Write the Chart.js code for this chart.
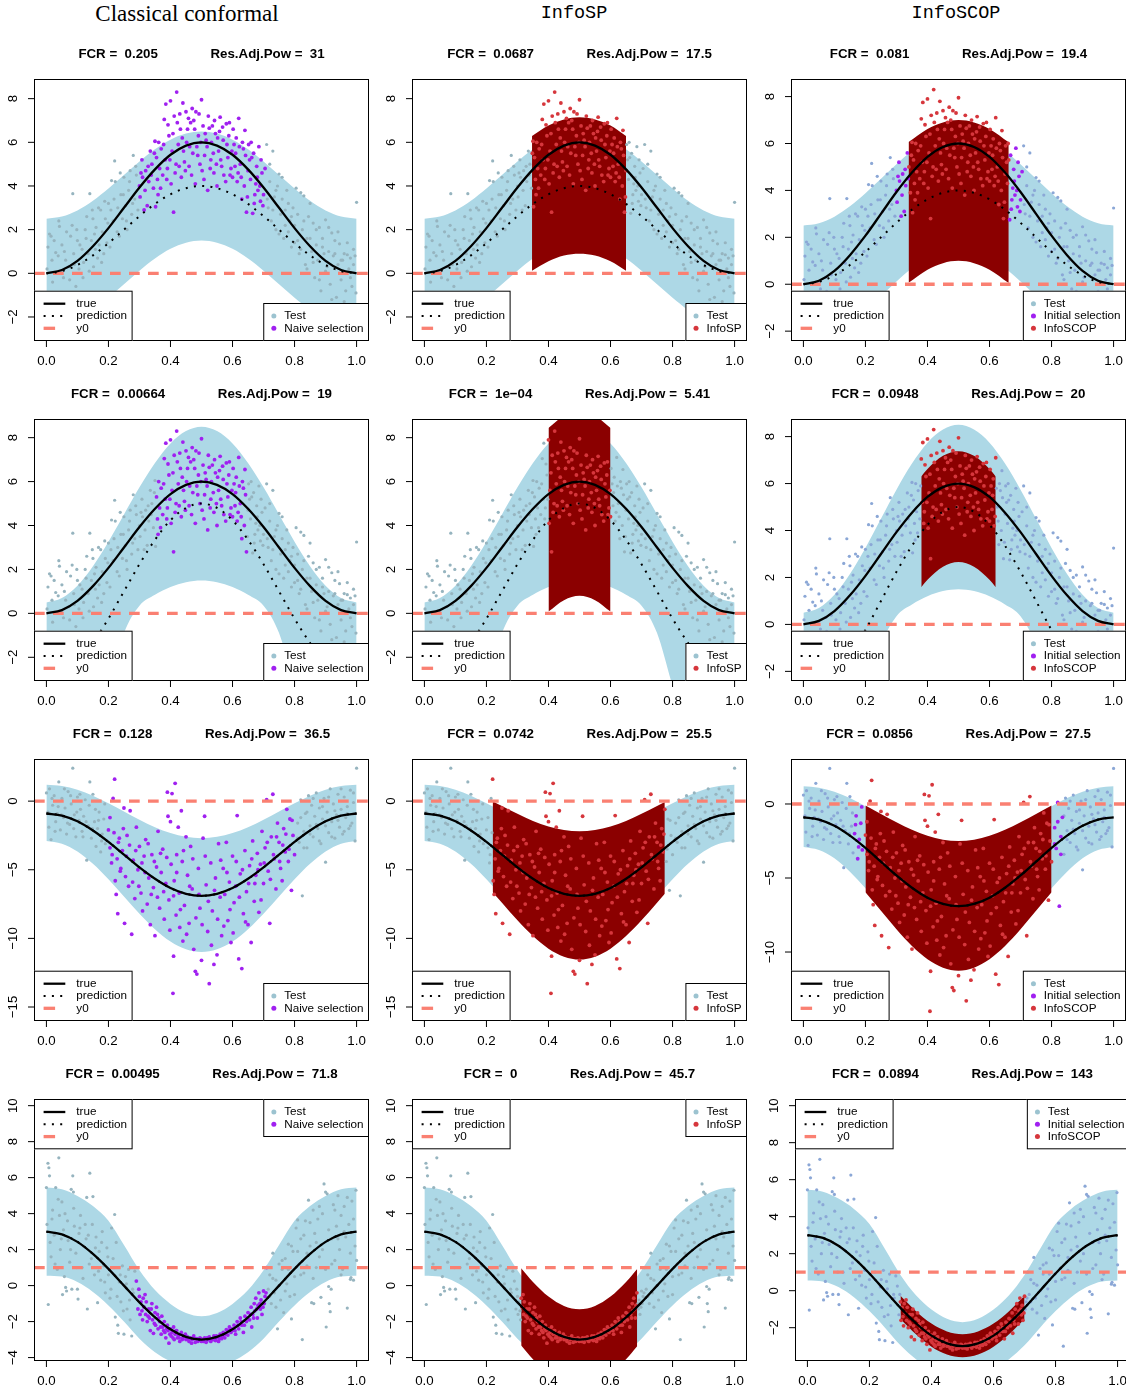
<!DOCTYPE html>
<html>
<head>
<meta charset="utf-8">
<script src="https://cdn.jsdelivr.net/npm/chart.js@4.4.0/dist/chart.umd.min.js"></script>
<style>
body{margin:0;background:#fff;width:1126px;height:1389px;overflow:hidden;position:relative}
canvas{position:absolute}
.head{position:absolute;top:0;width:300px;height:28px;line-height:28px;text-align:center;color:#000}
</style>
</head>
<body>
<div class="head" style="left:37px;font:23px 'Liberation Serif',serif;line-height:28px">Classical conformal</div>
<div class="head" style="left:424px;font:18.5px 'Liberation Mono',monospace;line-height:28px">InfoSP</div>
<div class="head" style="left:806px;font:18.5px 'Liberation Mono',monospace;line-height:28px">InfoSCOP</div>
<script>
// ---- data ----
const xGrid = [0,0.05,0.1,0.15,0.2,0.25,0.3,0.35,0.4,0.45,0.5,0.55,0.6,0.65,0.7,0.75,0.8,0.85,0.9,0.95,1];
const xTicks = [0,0.2,0.4,0.6,0.8,1];
const yTicksTop = [-2,0,2,4,6,8];
const yTicksR3 = [-15,-10,-5,0];
const yTicksR3c = [-10,-5,0];
const yTicksR4 = [-4,-2,0,2,4,6,8,10];
const yTicksR4c = [-2,0,2,4,6,8,10];

// rows 1-2 share the same response values
const trueA  = [0,0.15,0.57,1.24,2.07,3,3.93,4.76,5.43,5.85,6,5.85,5.43,4.76,3.93,3,2.07,1.24,0.57,0.15,0];
const predR1 = [0,0.1,0.38,0.82,1.38,2,2.62,3.18,3.62,3.9,4,3.9,3.62,3.18,2.62,2,1.38,0.82,0.38,0.1,0];
const upR1   = [2.5,2.6,2.88,3.32,3.88,4.5,5.12,5.68,6.12,6.4,6.5,6.4,6.12,5.68,5.12,4.5,3.88,3.32,2.88,2.6,2.5];
const loR1   = [-2.5,-2.4,-2.12,-1.68,-1.12,-0.5,0.12,0.68,1.12,1.4,1.5,1.4,1.12,0.68,0.12,-0.5,-1.12,-1.68,-2.12,-2.4,-2.5];
const predR2 = [-3,-2.8,-2.24,-1.35,-0.24,1,2.24,3.35,4.24,4.8,5,4.8,4.24,3.35,2.24,1,-0.24,-1.35,-2.24,-2.8,-3];
const upR2   = [0.5,0.7,1.26,2.15,3.26,4.5,5.74,6.85,7.74,8.3,8.5,8.3,7.74,6.85,5.74,4.5,3.26,2.15,1.26,0.7,0.5];
const loR2   = [-8,-7.8,-7,-5.5,-3.3,-0.9,0.35,0.85,1.2,1.42,1.5,1.42,1.2,0.85,0.35,-0.9,-3.3,-5.5,-7,-7.8,-8];
const trueR3 = [-0.9,-1.05,-1.47,-2.14,-2.97,-3.9,-4.83,-5.66,-6.33,-6.75,-6.9,-6.75,-6.33,-5.66,-4.83,-3.9,-2.97,-2.14,-1.47,-1.05,-0.9];
const predR3 = [-0.9,-1.05,-1.47,-2.14,-2.97,-3.9,-4.83,-5.66,-6.33,-6.75,-6.9,-6.75,-6.33,-5.66,-4.83,-3.9,-2.97,-2.14,-1.47,-1.05,-0.9];
const upR3   = [1.2,1.1,0.83,0.4,-0.15,-0.75,-1.35,-1.9,-2.33,-2.6,-2.7,-2.6,-2.33,-1.9,-1.35,-0.75,-0.15,0.4,0.83,1.1,1.2];
const loR3   = [-2.9,-3.1,-3.67,-4.57,-5.7,-6.95,-8.2,-9.33,-10.23,-10.8,-11,-10.8,-10.23,-9.33,-8.2,-6.95,-5.7,-4.57,-3.67,-3.1,-2.9];
const trueR4 = [3,2.85,2.43,1.76,0.93,0,-0.93,-1.76,-2.43,-2.85,-3,-2.85,-2.43,-1.76,-0.93,0,0.93,1.76,2.43,2.85,3];
const predR4 = [3,2.85,2.43,1.76,0.93,0,-0.93,-1.76,-2.43,-2.85,-3,-2.85,-2.43,-1.76,-0.93,0,0.93,1.76,2.43,2.85,3];
const upR4   = [5.45,5.35,4.98,4.42,3.6,2.25,0.85,-0.25,-1.02,-1.52,-1.7,-1.52,-1.02,-0.25,0.85,2.25,3.6,4.42,4.98,5.35,5.45];
const loR4   = [0.55,0.5,0.2,-0.35,-1.1,-2,-2.95,-3.7,-4.2,-4.45,-4.5,-4.45,-4.2,-3.7,-2.95,-2,-1.1,-0.35,0.2,0.5,0.55];
const y0Vals = [0,0,0,1];

// selected-interval bands (InfoSP / InfoSCOP)
const spX1 = [0.347,0.4,0.45,0.5,0.55,0.6,0.65];
const spUp1 = [6.29,6.77,7.05,7.15,7.05,6.77,6.29];
const spLo1 = [0.12,0.55,0.82,0.9,0.82,0.55,0.12];
const scX1 = [0.339,0.4,0.45,0.5,0.55,0.6,0.662];
const scUp1 = [6.06,6.62,6.9,7,6.9,6.62,6.05];
const scLo1 = [0.06,0.62,0.9,1,0.9,0.62,0.05];
const spX2 = [0.4,0.45,0.5,0.55,0.6];
const spUp2 = [8.44,9,9.2,9,8.44];
const spLo2 = [0.08,0.6,0.8,0.6,0.08];
const scX2 = [0.38,0.4,0.45,0.5,0.55,0.6,0.62];
const scUp2 = [6.3,6.62,7.18,7.38,7.18,6.62,6.3];
const scLo2 = [1.58,1.9,2.46,2.66,2.46,1.9,1.58];
const spX3 = [0.22,0.25,0.3,0.35,0.4,0.45,0.5,0.55,0.6,0.65,0.7,0.75,0.775];
const spUp3 = [0,-0.35,-0.92,-1.44,-1.85,-2.11,-2.2,-2.11,-1.85,-1.44,-0.92,-0.35,-0.06];
const spLo3 = [-6.63,-7.4,-8.68,-9.83,-10.75,-11.33,-11.54,-11.33,-10.75,-9.83,-8.68,-7.4,-6.75];
const scX3 = [0.2,0.25,0.3,0.35,0.4,0.45,0.5,0.55,0.6,0.65,0.7,0.75,0.8];
const scUp3 = [-0.1,-0.67,-1.23,-1.74,-2.15,-2.41,-2.5,-2.41,-2.15,-1.74,-1.23,-0.67,-0.1];
const scLo3 = [-5.97,-7.22,-8.47,-9.6,-10.49,-11.06,-11.26,-11.06,-10.49,-9.6,-8.47,-7.22,-5.97];
const spX4 = [0.312,0.35,0.4,0.45,0.5,0.55,0.6,0.65,0.686];
const spUp4 = [0.96,0.2,-0.61,-1.13,-1.31,-1.13,-0.61,0.2,0.92];
const spLo4 = [-3.33,-4.09,-4.9,-5.42,-5.6,-5.42,-4.9,-4.09,-3.37];
const scX4 = [0.3,0.35,0.4,0.45,0.5,0.55,0.6,0.65,0.7];
const scUp4 = [-0.28,-1.11,-1.78,-2.2,-2.35,-2.2,-1.78,-1.11,-0.28];
const scLo4 = [-1.53,-2.36,-3.03,-3.45,-3.6,-3.45,-3.03,-2.36,-1.53];

// test points: rows 1-2
const ptsA = [[0.002,0.2],[0.005,1.2],[0.01,1.8],[0.015,1.7],[0.02,-0.4],[0.025,1.5],[0.03,0.95],[0.035,-0.9],[0.04,2.4],[0.042,2.15],[0.048,0.1],[0.05,1.3],[0.055,-0.2],[0.058,1.0],[0.062,0.6],[0.068,-1.1],[0.072,0.3],[0.078,1.7],[0.083,2.2],[0.085,3.65],[0.09,0.4],[0.095,-0.6],[0.1,1.5],
[0.105,0.2],[0.11,-0.9],[0.115,1.1],[0.12,0.5],[0.125,2.0],[0.13,2.6],[0.135,0.9],[0.14,3.65],[0.145,1.5],[0.15,2.5],[0.152,0.3],[0.155,1.8],[0.16,2.1],[0.165,0.7],[0.17,1.3],[0.175,2.9],[0.18,1.9],[0.185,0.9],[0.19,2.5],[0.195,1.4],[0.2,3.2],
[0.205,1.2],[0.21,4.25],[0.215,2.4],[0.22,5.15],[0.222,4.2],[0.23,3.0],[0.235,1.7],[0.24,3.6],[0.245,2.5],[0.25,4.4],[0.255,3.1],[0.26,2.0],[0.265,3.8],[0.27,4.7],[0.275,2.7],[0.28,5.4],[0.285,3.4],[0.29,4.5],[0.295,2.9],
[0.3,4.0],[0.305,4.6],[0.31,4.4],[0.315,2.9],[0.32,4.7],[0.325,3.1],[0.33,4.2],[0.335,5.6],[0.34,5.0],[0.345,3.9],[0.35,6.05],[0.352,3.05],[0.355,5.3],[0.36,3.6],[0.365,4.8],[0.37,5.7],[0.375,4.5],[0.38,7.05],[0.383,5.2],[0.385,7.75],[0.39,4.8],[0.395,6.3],[0.4,7.9],[0.402,4.1],[0.405,5.6],[0.41,2.8],[0.412,7.2],[0.415,4.6],[0.42,8.3],[0.425,5.9],[0.43,7.3],[0.432,6.6],[0.435,4.4],[0.44,7.8],[0.445,5.1],[0.45,7.4],[0.452,6.0],[0.455,6.6],[0.46,4.9],[0.465,6.9],[0.47,7.55],[0.472,5.5],[0.475,7.0],[0.48,4.1],[0.482,7.4],[0.485,5.8],[0.49,6.3],[0.495,5.0],[0.5,7.95],[0.502,4.7],[0.505,6.75],[0.51,5.4],[0.515,6.1],[0.52,3.8],[0.522,7.2],[0.525,6.65],[0.53,5.2],[0.535,6.75],[0.54,4.6],[0.545,6.4],[0.55,4.0],[0.552,6.2],[0.555,5.6],[0.56,7.15],[0.565,4.9],[0.57,6.1],[0.572,4.5],[0.58,6.85],[0.585,5.3],[0.59,6.9],[0.595,4.8],[0.6,4.4],[0.605,5.9],[0.61,5.5],[0.615,4.2],[0.62,7.1],[0.625,5.0],[0.63,3.4],[0.635,5.7],[0.64,6.55],[0.645,2.8],[0.65,4.7],[0.655,5.2],[0.66,6.0],[0.662,5.3],[0.665,2.75],[0.67,3.2],[0.675,4.1],[0.68,4.4],[0.682,3.8],[0.685,5.8],[0.69,3.3],[0.695,4.6],[0.7,3.6],
[0.302,3.5],[0.308,5.2],[0.318,3.8],[0.328,4.9],[0.338,4.5],[0.348,5.5],[0.358,4.3],[0.362,6.0],[0.368,3.9],[0.378,5.9],[0.388,4.3],[0.392,6.8],[0.398,5.2],[0.408,6.4],[0.418,5.0],[0.422,6.9],[0.428,4.9],[0.438,6.2],[0.442,5.6],[0.448,4.7],[0.458,7.1],[0.462,5.8],[0.468,4.5],[0.478,6.6],[0.488,5.4],[0.492,7.3],[0.498,6.0],[0.508,4.3],[0.512,6.4],[0.518,5.8],[0.528,4.8],[0.532,6.0],[0.538,5.5],[0.542,7.0],[0.548,5.0],[0.558,6.5],[0.562,5.2],[0.568,6.7],[0.578,4.2],[0.582,5.9],[0.588,6.3],[0.592,4.5],[0.598,5.6],[0.602,6.6],[0.608,4.9],[0.612,6.2],[0.618,4.6],[0.622,5.8],[0.628,4.4],[0.632,6.0],[0.638,4.0],[0.642,5.4],[0.648,3.5],[0.652,5.9],[0.658,4.3],[0.668,5.5],[0.672,3.6],[0.678,4.9],[0.688,4.0],[0.692,5.2],[0.698,3.1],
[0.705,4.8],[0.71,5.9],[0.715,3.0],[0.72,4.2],[0.725,2.4],[0.73,5.6],[0.735,3.5],[0.74,2.0],[0.745,4.0],[0.75,4.55],[0.755,2.7],[0.76,3.4],[0.765,1.6],[0.77,2.9],[0.775,3.8],[0.78,1.9],[0.785,2.4],[0.79,1.2],[0.795,3.0],[0.8,2.2],
[0.805,3.9],[0.81,1.5],[0.815,0.9],[0.82,3.7],[0.825,2.0],[0.83,3.55],[0.835,0.4],[0.84,1.6],[0.845,2.6],[0.85,3.2],[0.855,1.0],[0.86,2.3],[0.865,-0.2],[0.87,1.3],[0.875,0.6],[0.88,2.1],[0.885,-0.8],[0.89,1.6],[0.895,0.9],[0.9,2.45],
[0.905,0.3],[0.91,2.1],[0.915,-0.5],[0.92,1.85],[0.925,0.8],[0.93,1.5],[0.935,-1.1],[0.94,0.4],[0.945,1.35],[0.95,-0.3],[0.955,0.6],[0.96,0.9],[0.965,-0.8],[0.97,0.85],[0.975,0.2],[0.98,0.7],[0.985,-0.6],[0.99,1.1],[0.995,0.8],[1.0,3.25],[0.998,-0.9],
[0.003,-1.4],[0.018,0.6],[0.028,-1.2],[0.038,0.8],[0.052,-1.5],[0.065,1.9],[0.075,-0.3],[0.088,0.9],[0.098,2.0],[0.108,1.3],[0.118,-0.2],[0.128,1.6],[0.138,0.1],[0.148,2.9],[0.158,1.1],[0.168,3.0],[0.178,0.5],[0.188,3.3],[0.198,2.3],[0.208,2.9],[0.218,3.4],[0.228,1.9],[0.238,4.6],[0.248,3.6],[0.258,2.4],[0.268,4.2],[0.278,3.2],[0.288,4.9],
[0.712,3.4],[0.72,5.0],[0.73,2.9],[0.74,3.8],[0.75,1.8],[0.76,4.4],[0.77,2.2],[0.78,3.2],[0.79,2.6],[0.8,1.4],[0.81,2.7],[0.82,1.1],[0.83,2.4],[0.84,0.2],[0.85,1.6],[0.86,0.5],[0.87,2.0],[0.88,-0.3],[0.89,1.2],[0.9,0.1],[0.91,1.0],[0.92,-1.2],[0.93,0.9],[0.94,1.9],[0.95,0.6],[0.96,-1.3],[0.97,1.4],[0.98,-0.2],[0.99,0.4]];

// row 3
const ptsB = [[0.0,0.6],[0.005,-0.8],[0.01,0.9],[0.015,-2.8],[0.02,-0.3],[0.025,0.4],[0.03,-1.5],[0.035,-0.9],[0.04,1.4],[0.045,-2.1],[0.05,0.2],[0.055,-1.2],[0.06,-0.5],[0.065,-2.4],[0.07,0.7],[0.075,-1.7],[0.08,-0.2],[0.085,2.4],[0.09,-1.0],[0.095,-2.6],[0.1,0.3],[0.105,-1.4],[0.11,-0.6],[0.115,-2.2],[0.12,-1.1],[0.125,0.1],[0.13,-4.3],[0.135,-1.8],[0.14,1.4],[0.145,-2.7],[0.15,0.5],[0.155,-1.5],[0.16,-3.3],[0.165,-2.0],[0.17,-0.8],[0.175,-3.7],[0.18,-2.4],[0.185,-1.3],[0.19,-3.1],
[0.2,-2.1],[0.205,-3.4],[0.21,-4.5],[0.215,0.2],[0.22,1.6],[0.222,-5.8],[0.225,-6.8],[0.23,-8.2],[0.232,-3.0],[0.235,-2.7],[0.24,-4.9],[0.245,-3.6],[0.25,-0.5],[0.252,-8.9],[0.255,-5.5],[0.26,-2.5],[0.265,-6.2],[0.27,-0.7],[0.275,-9.7],[0.28,-4.3],[0.285,-7.1],[0.29,-1.9],[0.295,-5.0],[0.3,-3.3],[0.305,-6.7],[0.31,-8.0],[0.315,-4.0],[0.32,-2.8],[0.325,-7.5],[0.33,-5.6],[0.335,-9.0],[0.34,-3.9],[0.345,-6.3],[0.35,-9.8],[0.355,-4.8],[0.36,-2.2],[0.365,-7.8],[0.37,-5.2],[0.375,-3.5],[0.38,-8.6],[0.385,-6.0],[0.39,0.65],[0.392,-1.1],[0.395,-7.2],[0.4,-1.5],[0.402,-4.6],[0.405,0.55],[0.408,-14.0],[0.41,-11.3],[0.412,-5.8],[0.415,1.3],[0.418,-8.3],[0.42,-3.9],[0.425,-1.9],[0.428,-6.7],[0.43,-9.2],[0.435,-0.7],[0.438,-4.4],[0.44,-10.2],[0.445,-7.6],[0.45,-2.6],[0.455,-5.4],[0.46,-8.9],[0.465,-3.3],[0.47,-6.4],[0.475,-10.8],[0.48,-12.4],[0.485,-12.6],[0.49,-4.9],[0.495,-7.8],[0.5,-11.6],[0.505,-2.7],[0.51,-1.1],[0.515,-6.1],[0.52,-9.5],[0.525,-13.3],[0.53,-4.5],[0.535,-8.0],[0.54,-11.9],[0.545,-5.6],[0.55,-11.2],[0.555,-3.1],[0.56,-7.0],[0.565,-9.8],[0.57,-4.9],[0.575,-6.8],[0.58,-3.0],[0.585,-8.7],[0.59,-5.9],[0.595,-10.3],[0.6,-4.0],[0.605,-7.4],[0.61,-6.2],[0.615,-1.05],[0.62,-11.5],[0.625,-5.3],[0.63,-12.2],[0.635,-8.2],[0.64,-3.6],[0.645,-6.6],[0.65,-9.0],[0.655,-4.7],[0.66,-10.3],[0.665,-2.9],[0.67,-7.3],[0.675,-5.4],[0.68,-3.8],[0.685,-8.1],[0.69,-4.6],[0.695,-2.2],[0.7,-6.0],[0.705,-3.4],[0.71,0.1],[0.715,-5.1],[0.72,-8.9],[0.725,-2.6],[0.73,0.5],[0.735,-4.2],[0.74,-6.4],[0.745,-1.6],[0.75,-3.0],[0.755,-4.9],[0.76,-5.8],[0.765,-2.0],[0.77,-3.7],[0.775,-0.6],[0.78,-4.4],[0.785,-1.3],[0.79,-6.5],[0.795,-2.5],[0.8,-3.9],
[0.205,-1.2],[0.212,-3.9],[0.218,-2.3],[0.228,-4.2],[0.238,-5.1],[0.248,-2.0],[0.258,-4.0],[0.268,-3.2],[0.278,-5.9],[0.288,-3.6],[0.298,-6.2],[0.308,-4.5],[0.318,-5.2],[0.328,-3.1],[0.338,-6.8],[0.348,-4.4],[0.358,-7.0],[0.368,-3.8],[0.378,-6.6],[0.388,-4.1],[0.398,-9.4],[0.41,-6.9],[0.42,-5.2],[0.432,-7.9],[0.442,-3.6],[0.452,-9.7],[0.462,-6.2],[0.472,-4.2],[0.482,-8.5],[0.492,-6.8],[0.502,-9.0],[0.512,-4.0],[0.522,-7.3],[0.532,-10.5],[0.542,-6.5],[0.552,-8.6],[0.562,-4.3],[0.572,-9.1],[0.582,-5.2],[0.592,-7.9],[0.602,-9.6],[0.612,-4.4],[0.622,-7.0],[0.632,-5.0],[0.642,-8.8],[0.652,-6.0],[0.662,-4.2],[0.672,-6.0],[0.682,-5.0],[0.692,-7.2],[0.702,-4.5],[0.712,-3.0],[0.722,-5.7],[0.732,-3.9],[0.742,-2.6],[0.752,-4.4],[0.762,-3.2],[0.772,-2.4],[0.782,-3.5],[0.792,-1.4],
[0.81,-1.6],[0.815,-3.0],[0.82,0.1],[0.825,-6.9],[0.83,-2.2],[0.835,-0.9],[0.84,-3.4],[0.845,0.4],[0.85,-1.8],[0.855,-0.3],[0.86,-2.6],[0.865,-1.1],[0.87,0.6],[0.875,-2.0],[0.88,-0.5],[0.885,-3.1],[0.89,-1.3],[0.895,0.2],[0.9,-4.45],[0.905,-0.8],[0.91,-2.3],[0.915,0.9],[0.92,-1.5],[0.925,-0.2],[0.93,-2.7],[0.935,-1.0],[0.94,0.5],[0.945,-1.9],[0.95,-0.6],[0.955,-2.4],[0.96,0.3],[0.965,-1.2],[0.97,-0.4],[0.975,-2.0],[0.98,0.8],[0.985,-1.6],[0.99,-0.1],[0.995,-2.9],[1.0,2.4],
[0.008,-1.9],[0.018,0.2],[0.028,-2.2],[0.038,-0.4],[0.048,-1.0],[0.058,0.9],[0.068,-1.6],[0.078,0.4],[0.088,-2.0],[0.098,-0.8],[0.108,0.5],[0.118,-2.6],[0.128,-1.5],[0.138,-0.3],[0.148,-2.0],[0.158,-0.6],[0.168,-1.4],[0.178,-2.9],[0.188,-0.2],
[0.81,-2.7],[0.82,-1.2],[0.83,-3.4],[0.84,-0.8],[0.85,-2.4],[0.86,0.2],[0.87,-1.7],[0.88,-2.9],[0.89,-0.4],[0.9,-1.8],[0.91,0.3],[0.92,-2.6],[0.93,-0.7],[0.94,-1.4],[0.95,0.9],[0.96,-2.2],[0.97,-0.9],[0.98,-1.8],[0.99,0.6]];

// row 4
const ptsC = [[0.0,5.45],[0.002,3.4],[0.005,6.8],[0.006,-1.05],[0.008,6.55],[0.01,6.1],[0.012,2.4],[0.015,1.6],[0.02,4.2],[0.025,2.8],[0.03,5.45],[0.035,0.9],[0.04,7.1],[0.042,3.9],[0.045,2.0],[0.05,4.65],[0.052,-0.5],[0.055,3.1],[0.06,4.0],[0.062,-0.1],[0.065,-0.3],[0.07,2.5],[0.075,1.3],[0.08,5.35],[0.082,-0.2],[0.085,6.1],[0.087,5.2],[0.09,3.3],[0.095,1.8],[0.1,-0.2],[0.102,-0.75],[0.105,2.9],[0.11,3.9],[0.115,1.0],[0.12,2.2],[0.125,3.4],[0.13,4.9],[0.132,-1.3],[0.135,2.8],[0.14,6.25],[0.145,1.5],[0.15,4.95],[0.155,0.6],[0.16,2.7],[0.165,-0.95],[0.17,1.9],[0.175,0.3],[0.18,3.0],[0.185,1.1],[0.19,-0.4],[0.195,2.1],[0.2,0.6],[0.205,-0.7],[0.21,3.2],[0.215,1.5],[0.22,3.95],[0.222,-1.75],[0.225,2.4],[0.23,-2.2],[0.232,-2.65],[0.235,0.2],[0.24,-0.9],[0.245,1.1],[0.25,-2.7],[0.255,0.5],[0.26,-1.3],[0.265,0.9],[0.27,-1.9],[0.275,-2.8],[0.28,-0.4],[0.285,0.8],
[0.29,0.25],[0.295,-1.3],[0.3,-0.6],[0.302,-1.6],[0.305,-0.9],[0.31,-1.9],[0.312,-0.7],[0.315,-1.2],[0.32,-1.6],[0.322,-0.9],[0.325,-2.0],[0.33,-1.3],[0.332,-1.8],[0.335,-2.5],[0.34,-1.0],[0.342,-1.9],[0.345,-2.65],[0.35,-1.5],[0.352,-2.2],[0.355,-1.2],[0.36,-2.4],[0.362,-1.8],[0.365,-2.0],[0.37,-2.7],[0.372,-1.7],[0.375,-2.3],[0.38,-2.0],[0.382,-2.6],[0.385,-2.9],[0.39,-2.2],[0.392,-2.5],[0.395,-3.2],[0.4,-2.4],[0.402,-2.8],[0.405,-2.6],[0.41,-2.3],[0.412,-3.0],[0.415,-2.7],[0.42,-2.5],[0.422,-2.9],[0.425,-2.75],[0.43,-3.1],[0.435,-2.6],[0.44,-2.9],[0.445,-2.8],[0.45,-3.0],[0.455,-2.85],[0.46,-3.1],[0.465,-2.9],[0.47,-3.0],[0.475,-2.8],[0.48,-3.15],[0.485,-2.95],[0.49,-3.05],[0.495,-2.9],[0.5,-3.1],[0.505,-3.0],[0.51,-2.9],[0.515,-3.15],[0.52,-3.0],[0.525,-2.85],[0.53,-3.1],[0.535,-2.95],[0.54,-2.8],[0.545,-3.05],[0.55,-2.9],[0.555,-3.1],[0.56,-2.7],[0.565,-2.95],[0.57,-2.6],[0.575,-2.9],[0.58,-2.45],[0.585,-2.75],[0.59,-2.3],[0.595,-2.6],[0.6,-2.5],[0.605,-2.2],[0.61,-2.7],[0.615,-2.0],[0.62,-2.4],[0.625,-1.8],[0.63,-2.2],[0.635,-2.6],[0.64,-1.7],[0.645,-2.0],[0.65,-1.5],[0.655,-1.9],[0.66,-1.2],[0.662,-2.3],[0.665,-1.6],[0.67,-1.0],[0.672,-1.4],[0.675,-0.7],[0.68,-1.8],[0.682,-1.1],[0.685,-0.4],[0.69,-1.3],[0.692,-0.8],[0.695,-1.6],[0.7,-0.3],[0.702,-1.0],[0.705,-0.6],[0.71,1.0],
[0.298,-0.2],[0.308,-1.4],[0.318,-0.5],[0.328,-1.7],[0.338,-1.3],[0.348,-2.1],[0.358,-1.6],[0.368,-2.3],[0.378,-2.5],[0.388,-2.4],[0.398,-2.7],[0.408,-2.9],[0.418,-2.5],[0.428,-2.9],[0.438,-3.0],[0.448,-2.7],[0.458,-3.0],[0.468,-3.2],[0.478,-2.95],[0.488,-3.1],[0.498,-2.95],[0.508,-3.1],[0.518,-2.9],[0.528,-3.05],[0.538,-3.0],[0.548,-2.8],[0.558,-2.95],[0.568,-2.8],[0.578,-2.7],[0.588,-2.5],[0.598,-2.4],[0.608,-2.5],[0.618,-2.2],[0.628,-2.0],[0.638,-2.2],[0.648,-1.8],[0.658,-1.6],[0.668,-1.8],[0.678,-1.3],[0.688,-1.0],[0.698,-1.2],[0.708,-0.4],
[0.715,-0.2],[0.72,0.6],[0.725,-1.0],[0.73,1.8],[0.735,-0.4],[0.74,0.3],[0.745,-2.4],[0.75,1.2],[0.755,-0.8],[0.76,0.9],[0.765,-1.5],[0.77,1.5],[0.775,0.1],[0.78,2.3],[0.785,-0.6],[0.79,-1.85],[0.795,1.9],[0.8,0.5],[0.805,3.2],[0.81,3.65],[0.815,1.2],[0.82,2.6],[0.825,-3.0],[0.83,0.7],[0.835,3.6],[0.84,1.8],[0.845,4.75],[0.85,2.2],[0.855,-0.95],[0.86,4.2],[0.862,-1.0],[0.865,2.9],[0.87,1.0],[0.875,3.7],[0.88,1.6],[0.885,-0.65],[0.89,4.0],[0.895,5.65],[0.9,5.2],[0.902,-2.3],[0.905,5.1],[0.91,-0.05],[0.912,-1.0],[0.915,-1.45],[0.918,-0.2],[0.92,2.6],[0.925,4.5],[0.93,1.4],[0.935,3.3],[0.94,5.0],[0.945,2.0],[0.95,3.9],[0.955,0.9],[0.96,4.4],[0.965,2.7],[0.97,-1.25],[0.975,3.4],[0.98,0.35],[0.982,0.45],[0.985,4.7],[0.99,0.3],[0.995,2.2],[1.0,1.4],[0.998,5.3],
[0.018,3.7],[0.028,1.2],[0.038,4.8],[0.048,2.6],[0.058,0.5],[0.068,3.6],[0.078,2.0],[0.088,4.3],[0.098,1.0],[0.108,3.2],[0.118,0.4],[0.128,2.6],[0.138,1.2],[0.148,3.4],[0.158,2.1],[0.168,0.8],[0.178,2.4],[0.188,0.2],[0.198,1.6],[0.208,-0.2],[0.218,1.0],[0.228,-0.6],[0.238,0.6],[0.248,-1.4],[0.258,0.1],[0.268,-0.8],[0.278,-0.2],
[0.72,-0.6],[0.73,0.4],[0.74,-1.2],[0.75,0.0],[0.76,1.4],[0.77,-0.3],[0.78,0.9],[0.79,2.2],[0.8,-0.5],[0.81,1.9],[0.82,0.6],[0.83,2.8],[0.84,1.1],[0.85,3.5],[0.86,0.4],[0.87,2.4],[0.88,4.4],[0.89,2.0],[0.9,0.9],[0.91,3.1],[0.92,1.2],[0.93,4.2],[0.94,2.6],[0.95,0.6],[0.96,3.0],[0.97,4.9],[0.98,1.8],[0.99,3.7]];

// per panel (row-major, 3 columns)
const fcrText = ['0.205','0.0687','0.081','0.00664','1e\u221204','0.0948','0.128','0.0742','0.0856','0.00495','0','0.0894'];
const powText = ['31','17.5','19.4','19','5.41','20','36.5','25.5','27.5','71.8','45.7','143'];
const yLimits = [[-3.1,8.9],[-3.1,8.9],[-2.42,8.75],[-3.08,8.85],[-3.08,8.85],[-2.41,8.75],[-16.02,3.07],[-16.02,3.07],[-14.66,3.04],[-4.19,10.37],[-4.19,10.37],[-3.8,10.36]];
const yTickSets = [yTicksTop,yTicksTop,yTicksTop,yTicksTop,yTicksTop,yTicksTop,yTicksR3,yTicksR3,yTicksR3c,yTicksR4,yTicksR4,yTicksR4c];
const initSel = [[0.298,0.705],null,[0.298,0.705],[0.355,0.645],null,[0.38,0.62],[0.195,0.805],null,[0.165,0.835],[0.288,0.712],null,[0.3,0.7]];
const finalSel = [null,[0.347,0.65],[0.339,0.662],null,[0.4,0.6],[0.38,0.62],null,[0.22,0.775],[0.2,0.8],null,[0.312,0.686],[0.3,0.7]];
const redBands = [null,[spX1,spUp1,spLo1],[scX1,scUp1,scLo1],null,[spX2,spUp2,spLo2],[scX2,scUp2,scLo2],null,[spX3,spUp3,spLo3],[scX3,scUp3,scLo3],null,[spX4,spUp4,spLo4],[scX4,scUp4,scLo4]];
const rowPts = [ptsA,ptsA,ptsB,ptsC];
const rowTrue = [trueA,trueA,trueR3,trueR4];
const rowPred = [predR1,predR2,predR3,predR4];
const rowUp = [upR1,upR2,upR3,upR4];
const rowLo = [loR1,loR2,loR3,loR4];

// ---- layout / style ----
const boxLeft = [34,412,791];
const boxTop = [79,419,759,1099];
const BOX_W = 335, BOX_H = 262;
const PAD = {left:34, top:40, right:10, bottom:32};
const C = {
  band:'#ADD8E6', red:'#8B0000', test:'#96B4BF', testBlue:'#8BA7D6', testKey:'#9CC3D0',
  purple:'#A020F0', redPt:'#D6363C', y0:'#FA8072'
};
const SANS = '"Liberation Sans", Arial, Helvetica, sans-serif';

const curve = (xs, ys) => xs.map((x, i) => ({x, y: ys[i]}));
const inR = (p, r) => r && p[0] >= r[0] && p[0] <= r[1];
const toXY = arr => arr.map(p => ({x: p[0], y: p[1]}));
const fmtY = v => (v < 0 ? '\u2212' + Math.abs(v) : String(v));

function framePlugin(pn) {
  return {
    id: 'frame',
    afterDatasetsDraw(chart) {
      const {ctx, chartArea: a} = chart;
      const sx = chart.scales.x, sy = chart.scales.y;
      ctx.save();
      ctx.strokeStyle = '#000';
      ctx.fillStyle = '#000';
      ctx.lineWidth = 1;
      ctx.setLineDash([]);
      ctx.strokeRect(a.left + 0.5, a.top + 0.5, a.width - 1, a.height - 1);

      ctx.font = '13.3px ' + SANS;
      ctx.textAlign = 'center';
      ctx.textBaseline = 'middle';
      xTicks.forEach(v => {
        const px = sx.getPixelForValue(v);
        ctx.beginPath(); ctx.moveTo(px, a.bottom); ctx.lineTo(px, a.bottom + 6); ctx.stroke();
        ctx.fillText(v.toFixed(1), px, a.bottom + 20.5);
      });
      pn.yTicks.forEach(v => {
        const py = sy.getPixelForValue(v);
        ctx.beginPath(); ctx.moveTo(a.left - 6, py); ctx.lineTo(a.left, py); ctx.stroke();
        ctx.save();
        ctx.translate(a.left - 20.5, py);
        ctx.rotate(-Math.PI / 2);
        ctx.fillText(fmtY(v), 0, 0);
        ctx.restore();
      });

      // panel subtitle
      ctx.font = 'bold 13.3px ' + SANS;
      ctx.textAlign = 'left';
      const s1 = 'FCR =  ' + pn.fcr, s2 = 'Res.Adj.Pow =  ' + pn.pow;
      const w1 = ctx.measureText(s1).width, w2 = ctx.measureText(s2).width, gap = 52.6;
      const cx = a.left + BOX_W / 2;
      const x0 = cx - (w1 + gap + w2) / 2;
      ctx.fillText(s1, x0, a.top - 24.5);
      ctx.fillText(s2, x0 + w1 + gap, a.top - 24.5);

      // legends
      ctx.font = '11.7px ' + SANS;
      const rowH = 12.3;
      const hOf = n => 13 + rowH * (n - 1) + 12.7;
      const lh = hOf(3), lw = 98.6;
      const ly = pn.legendTop ? a.top : a.bottom - lh;
      ctx.fillStyle = '#fff';
      ctx.fillRect(a.left, ly, lw, lh);
      ctx.strokeRect(a.left + 0.5, ly + 0.5, lw - 1, lh - 1);
      const lines = [
        {label:'true', color:'#000', w:2.3, dash:[]},
        {label:'prediction', color:'#000', w:2, dash:[2,6.3]},
        {label:'y0', color:C.y0, w:3.3, dash:[11.5,12]}
      ];
      lines.forEach((e, i) => {
        const yy = ly + 13 + rowH * i;
        ctx.save();
        ctx.strokeStyle = e.color; ctx.lineWidth = e.w; ctx.setLineDash(e.dash);
        ctx.beginPath(); ctx.moveTo(a.left + 9.6, yy); ctx.lineTo(a.left + 31.3, yy); ctx.stroke();
        ctx.restore();
        ctx.fillStyle = '#000';
        ctx.fillText(e.label, a.left + 42.3, yy);
      });
      const keys = pn.keys;
      const tw = Math.max(...keys.map(k => ctx.measureText(k[0]).width));
      const rw = 21 + tw + 5.5, rh = hOf(keys.length);
      const rx = a.left + BOX_W - rw;
      const ry = pn.legendTop ? a.top : a.bottom - rh;
      ctx.fillStyle = '#fff';
      ctx.fillRect(rx, ry, rw, rh);
      ctx.strokeRect(rx + 0.5, ry + 0.5, rw - 1, rh - 1);
      keys.forEach((k, i) => {
        const yy = ry + 13 + rowH * i;
        ctx.fillStyle = k[1];
        ctx.beginPath(); ctx.arc(rx + 10.6, yy, 2.5, 0, Math.PI * 2); ctx.fill();
        ctx.fillStyle = '#000';
        ctx.fillText(k[0], rx + 21, yy);
      });
      ctx.restore();
    }
  };
}

const keySets = [
  [['Test', C.testKey], ['Naive selection', C.purple]],
  [['Test', C.testKey], ['InfoSP', C.redPt]],
  [['Test', C.testKey], ['Initial selection', C.purple], ['InfoSCOP', C.redPt]]
];

for (let idx = 0; idx < 12; idx++) {
  const r = Math.floor(idx / 3), c = idx % 3;
  const pts = rowPts[r];
  const init = initSel[idx], fin = finalSel[idx];
  const testPts = pts.filter(p => !inR(p, init) && !inR(p, fin));
  const purplePts = pts.filter(p => inR(p, init) && !inR(p, fin));
  const redPts = pts.filter(p => inR(p, fin));

  const bl = (r === 3 && c === 2) ? 795 : boxLeft[c];
  const bt = boxTop[r];
  const cv = document.createElement('canvas');
  const cw = PAD.left + BOX_W + PAD.right, ch = PAD.top + BOX_H + PAD.bottom;
  cv.width = cw; cv.height = ch;
  cv.style.left = (bl - PAD.left) + 'px';
  cv.style.top = (bt - PAD.top) + 'px';
  cv.style.width = cw + 'px'; cv.style.height = ch + 'px';
  document.body.appendChild(cv);

  const lineBase = {type:'line', pointRadius:0, cubicInterpolationMode:'monotone', clip:0};
  const ds = [];
  let ord = 30;
  ds.push({...lineBase, data: curve(xGrid, rowUp[r]), borderColor:'rgba(0,0,0,0)', borderWidth:0, fill:false, order: ord--});
  ds.push({...lineBase, data: curve(xGrid, rowLo[r]), borderColor:'rgba(0,0,0,0)', borderWidth:0, backgroundColor:C.band, fill:'-1', order: ord--});
  const rb = redBands[idx];
  if (rb) {
    ds.push({...lineBase, data: curve(rb[0], rb[1]), borderColor:'rgba(0,0,0,0)', borderWidth:0, fill:false, order: ord--});
    ds.push({...lineBase, data: curve(rb[0], rb[2]), borderColor:'rgba(0,0,0,0)', borderWidth:0, backgroundColor:C.red, fill:'-1', order: ord--});
  }
  const pointBase = {type:'scatter', showLine:false, pointBorderWidth:0, pointBorderColor:'rgba(0,0,0,0)', clip:0};
  ds.push({...pointBase, data: toXY(testPts), pointRadius:1.6, pointBackgroundColor: c === 2 ? C.testBlue : C.test, order: ord--});
  if (purplePts.length) ds.push({...pointBase, data: toXY(purplePts), pointRadius:1.9, pointBackgroundColor:C.purple, order: ord--});
  if (redPts.length) ds.push({...pointBase, data: toXY(redPts), pointRadius:1.9, pointBackgroundColor:C.redPt, order: ord--});
  ds.push({...lineBase, data: [{x:-0.04, y:y0Vals[r]}, {x:1.04, y:y0Vals[r]}], borderColor:C.y0, borderWidth:3.3, borderDash:[10.7,8.3], fill:false, order: ord--});
  ds.push({...lineBase, data: curve(xGrid, rowPred[r]), borderColor:'#000', borderWidth:2, borderDash:[2,6.3], fill:false, order: ord--});
  ds.push({...lineBase, data: curve(xGrid, rowTrue[r]), borderColor:'#000', borderWidth:2.3, fill:false, order: ord--});

  new Chart(cv, {
    type: 'scatter',
    data: {datasets: ds},
    options: {
      responsive: false,
      animation: false,
      events: [],
      layout: {padding: PAD},
      scales: {
        x: {type:'linear', min:-0.04, max:1.04, display:false},
        y: {type:'linear', min:yLimits[idx][0], max:yLimits[idx][1], display:false}
      },
      plugins: {legend:{display:false}, tooltip:{enabled:false}}
    },
    plugins: [framePlugin({
      yTicks: yTickSets[idx], fcr: fcrText[idx], pow: powText[idx],
      keys: keySets[c], legendTop: r === 3
    })]
  });
}
</script>
</body>
</html>
